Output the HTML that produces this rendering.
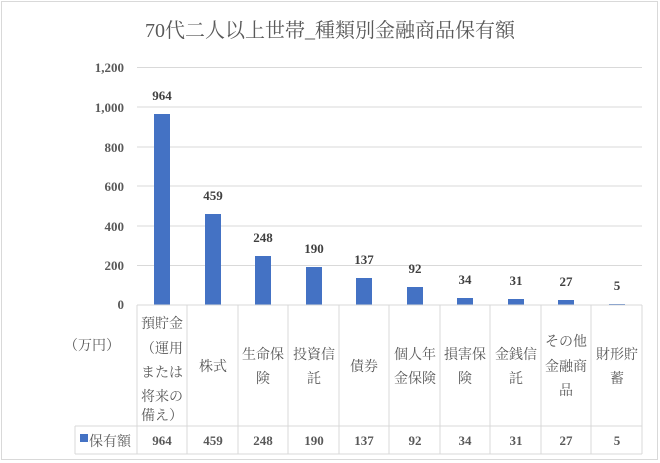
<!DOCTYPE html>
<html><head><meta charset="utf-8"><style>
html,body{margin:0;padding:0;background:#fff}
svg{display:block;font-family:"Liberation Serif","Noto Serif CJK SC","Noto Serif CJK JP",serif}
</style></head><body>
<svg width="660" height="463" viewBox="0 0 660 463">
<rect x="1.5" y="1.5" width="656" height="458" fill="#fff" stroke="#d9d9d9"/>
<text x="330" y="37" text-anchor="middle" font-size="20" fill="#595959">70代二人以上世帯_種類別金融商品保有額</text>
<g stroke="#d9d9d9" stroke-width="1">
<line x1="137" y1="67.5" x2="642" y2="67.5"/>
<line x1="137" y1="107" x2="642" y2="107"/>
<line x1="137" y1="147" x2="642" y2="147"/>
<line x1="137" y1="186" x2="642" y2="186"/>
<line x1="137" y1="226" x2="642" y2="226"/>
<line x1="137" y1="265.5" x2="642" y2="265.5"/>
</g>
<g font-size="13" font-weight="bold" fill="#595959" text-anchor="end">
<text x="124" y="72">1,200</text><text x="124" y="112">1,000</text>
<text x="124" y="152">800</text><text x="124" y="191">600</text>
<text x="124" y="231">400</text><text x="124" y="270">200</text>
<text x="124" y="309">0</text>
</g>
<g fill="#4472c4">
<rect x="154" y="114" width="16" height="191"/>
<rect x="205" y="214" width="16" height="91"/>
<rect x="255" y="256" width="16" height="49"/>
<rect x="306" y="267" width="16" height="38"/>
<rect x="356" y="278" width="16" height="27"/>
<rect x="407" y="287" width="16" height="18"/>
<rect x="457" y="298" width="16" height="7"/>
<rect x="508" y="299" width="16" height="6"/>
<rect x="558" y="300" width="16" height="5"/>
<rect x="609" y="304" width="16" height="1"/>
</g>
<g font-size="13" font-weight="bold" fill="#404040" text-anchor="middle">
<text x="162" y="100">964</text><text x="213" y="200">459</text>
<text x="263" y="242">248</text><text x="314" y="253">190</text>
<text x="364" y="264">137</text><text x="415" y="273">92</text>
<text x="465" y="284">34</text><text x="516" y="285">31</text>
<text x="566" y="286">27</text><text x="617" y="290">5</text>
</g>
<g stroke="#d9d9d9" stroke-width="1" fill="none">
<line x1="137" y1="305" x2="642" y2="305"/>
<line x1="75" y1="426" x2="642" y2="426"/>
<line x1="75" y1="454" x2="642" y2="454"/>
<line x1="75" y1="426" x2="75" y2="454"/>
<line x1="137" y1="305" x2="137" y2="454"/>
<line x1="187" y1="305" x2="187" y2="454"/>
<line x1="238" y1="305" x2="238" y2="454"/>
<line x1="288" y1="305" x2="288" y2="454"/>
<line x1="339" y1="305" x2="339" y2="454"/>
<line x1="389" y1="305" x2="389" y2="454"/>
<line x1="440" y1="305" x2="440" y2="454"/>
<line x1="490" y1="305" x2="490" y2="454"/>
<line x1="541" y1="305" x2="541" y2="454"/>
<line x1="591" y1="305" x2="591" y2="454"/>
<line x1="642" y1="305" x2="642" y2="454"/>
</g>
<g font-size="14" fill="#595959" text-anchor="middle">
<text x="162" y="328">預貯金</text><text x="162" y="353">（運用</text><text x="162" y="377">または</text><text x="162" y="401">将来の</text><text x="162" y="420">備え）</text>
<text x="213" y="371">株式</text>
<text x="263" y="359">生命保</text><text x="263" y="383">険</text>
<text x="314" y="359">投資信</text><text x="314" y="383">託</text>
<text x="364" y="371">債券</text>
<text x="415" y="359">個人年</text><text x="415" y="383">金保険</text>
<text x="465" y="359">損害保</text><text x="465" y="383">険</text>
<text x="516" y="359">金銭信</text><text x="516" y="383">託</text>
<text x="566" y="346">その他</text><text x="566" y="371">金融商</text><text x="566" y="395">品</text>
<text x="617" y="359">財形貯</text><text x="617" y="383">蓄</text>
<text x="92" y="350">（万円）</text>
</g>
<rect x="80" y="434" width="8" height="8" fill="#4472c4"/>
<text x="89" y="446" font-size="14" fill="#595959">保有額</text>
<g font-size="13" font-weight="bold" fill="#595959" text-anchor="middle">
<text x="162" y="445">964</text><text x="213" y="445">459</text>
<text x="263" y="445">248</text><text x="314" y="445">190</text>
<text x="364" y="445">137</text><text x="415" y="445">92</text>
<text x="465" y="445">34</text><text x="516" y="445">31</text>
<text x="566" y="445">27</text><text x="617" y="445">5</text>
</g>
</svg>
</body></html>
